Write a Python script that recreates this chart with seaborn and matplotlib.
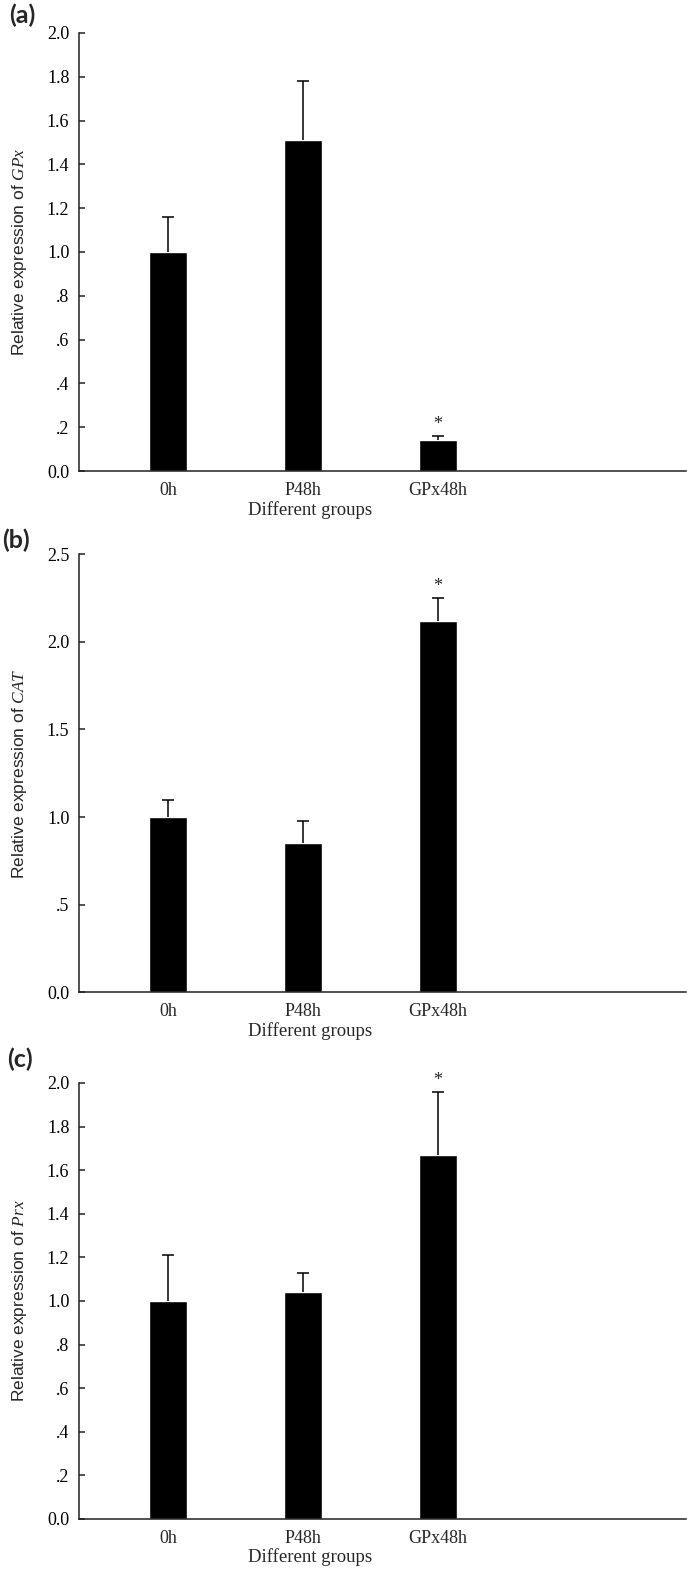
import matplotlib
matplotlib.use('Agg')
import matplotlib.pyplot as plt
import pandas as pd
import seaborn as sns

# Data (means and upper error)
groups = ['0h', 'P48h', 'GPx48h']

gpx_mean = [1.00, 1.51, 0.14]
gpx_err = [0.16, 0.27, 0.02]

cat_mean = [1.00, 0.85, 2.12]
cat_err = [0.10, 0.13, 0.13]

prx_mean = [1.00, 1.04, 1.67]
prx_err = [0.21, 0.09, 0.29]

# significance marks (index of starred group)
gpx_star = [2]
cat_star = [2]
prx_star = [2]

ticks_02 = [0.0, 0.2, 0.4, 0.6, 0.8, 1.0, 1.2, 1.4, 1.6, 1.8, 2.0]
labels_02 = ['0.0', '.2', '.4', '.6', '.8', '1.0', '1.2', '1.4', '1.6', '1.8', '2.0']
ticks_05 = [0.0, 0.5, 1.0, 1.5, 2.0, 2.5]
labels_05 = ['0.0', '.5', '1.0', '1.5', '2.0', '2.5']

sns.set_style('ticks')
plt.rcParams['font.family'] = ['Liberation Serif', 'DejaVu Serif']
plt.rcParams['mathtext.fontset'] = 'custom'
plt.rcParams['mathtext.it'] = 'Liberation Serif:italic'
plt.rcParams['mathtext.rm'] = 'Liberation Serif'

fig = plt.figure(figsize=(6.87, 15.70), dpi=100)

panels = [
    ('(a)', gpx_mean, gpx_err, gpx_star, 'GPx', ticks_02, labels_02, 2.0,
     [0.115, 0.700, 0.8836, 0.279], (9, 15)),
    ('(b)', cat_mean, cat_err, cat_star, 'CAT', ticks_05, labels_05, 2.5,
     [0.115, 0.368, 0.8836, 0.279], (2, 540)),
    ('(c)', prx_mean, prx_err, prx_star, 'Prx', ticks_02, labels_02, 2.0,
     [0.115, 0.0325, 0.8836, 0.2777], (7, 1059)),
]

for letter, means, errs, stars, gene, yt, ytl, ymax, rect, lpos in panels:
    ax = fig.add_axes(rect)
    df = pd.DataFrame({'group': groups, 'value': means, 'err': errs})
    df['top'] = df['value'] + df['err']
    sns.barplot(data=df, x='group', y='value', color='black', saturation=1,
                width=0.28, errorbar=None, ax=ax)

    # upper-only error bars: stem plus a single cap
    centers = [p.get_x() + p.get_width() / 2 for p in ax.patches]
    ax.vlines(centers, df['value'], df['top'], color='black', lw=1.1)
    ax.plot(centers, df['top'], ls='none', marker='_', markersize=9,
            markeredgewidth=1.1, color='black')
    for i in stars:
        ax.annotate('*', xy=(centers[i], df['top'][i]), xytext=(0, 2),
                    textcoords='offset points', ha='center', va='bottom',
                    fontsize=13)

    ax.set_xlim(-0.659, 3.837)
    ax.set_ylim(0, ymax)
    ax.set_yticks(yt)
    ax.set_yticklabels(ytl, fontsize=13)
    ax.tick_params(axis='y', direction='in', length=4, width=1.1, pad=7,
                   colors='#222222', labelcolor='black')
    ax.tick_params(axis='x', length=0, pad=8, labelsize=13)
    for side in ['top', 'right']:
        ax.spines[side].set_visible(False)
    for side in ['left', 'bottom']:
        ax.spines[side].set_linewidth(1.1)
        ax.spines[side].set_color('#222222')

    ax.set_xlabel('Different groups', fontsize=13.5)
    ax.xaxis.set_label_coords(0.38, -0.068)
    ax.set_ylabel('Relative expression of $\\mathit{' + gene + '}$',
                  fontsize=12.5, family=['Liberation Sans', 'DejaVu Sans'])
    ax.yaxis.set_label_coords(-0.082, 0.5)

    fig.text(lpos[0] / 687, 1 - lpos[1] / 1570, letter, ha='left',
             va='center', fontsize=18, fontweight='bold',
             family=['Lato', 'DejaVu Sans'])

fig.savefig('out.png', dpi=100)
